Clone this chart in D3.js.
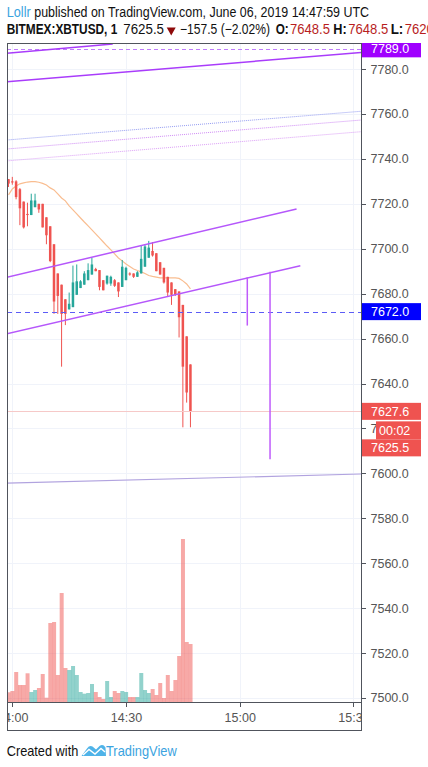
<!DOCTYPE html>
<html>
<head>
<meta charset="utf-8">
<script src="https://cdnjs.cloudflare.com/ajax/libs/d3/7.8.5/d3.min.js"></script>
<style>
	body { margin: 0; background: #fff; }
	svg { display: block; }
	text { font-family: "Liberation Sans", Arial, sans-serif; }
	.head { font-family: "Noto Sans", sans-serif; font-size: 14px; }
</style>
</head>
<body>
<div id="chart"></div>
<script>
// 1 minute candles, first one at 13:59
let firstCandle	= "13:59:00";

let opens	= [7731.0, 7730.0, 7730.0, 7726.5, 7721.0, 7715.5, 7715.0, 7718.5, 7720.0, 7720.0,
			   7714.0, 7710.0, 7702.0, 7689.0, 7684.0, 7677.5, 7673.0, 7674.0, 7679.5, 7682.5,
			   7684.0, 7686.0, 7688.5, 7691.0, 7690.5, 7686.0, 7684.5, 7684.5, 7686.0, 7685.0,
			   7683.0, 7686.0, 7689.0, 7689.0, 7687.5, 7689.0, 7692.0, 7696.0, 7699.0, 7698.0,
			   7694.0, 7691.5, 7687.5, 7685.0, 7682.0, 7681.0, 7675.0, 7661.0, 7648.5];
let highs	= [7731.0, 7732.0, 7730.5, 7727.0, 7721.0, 7720.5, 7724.5, 7724.5, 7720.0, 7720.0,
			   7714.0, 7710.0, 7702.0, 7689.0, 7684.0, 7677.5, 7680.5, 7692.5, 7693.0, 7686.0,
			   7690.0, 7693.5, 7696.0, 7691.5, 7690.5, 7686.0, 7688.0, 7688.0, 7686.5, 7685.0,
			   7695.0, 7692.0, 7689.5, 7689.0, 7690.0, 7701.5, 7702.0, 7703.5, 7703.0, 7698.0,
			   7694.0, 7691.5, 7687.5, 7685.0, 7682.0, 7681.0, 7675.0, 7661.0, 7648.5];
let lows	= [7727.5, 7728.5, 7722.0, 7710.5, 7709.0, 7710.0, 7715.0, 7718.5, 7716.0, 7709.5,
			   7702.0, 7694.0, 7671.0, 7671.0, 7647.5, 7666.0, 7673.0, 7674.0, 7679.5, 7682.5,
			   7684.0, 7686.0, 7688.5, 7690.0, 7681.5, 7681.5, 7684.0, 7683.5, 7683.0, 7678.5,
			   7683.0, 7686.0, 7688.0, 7687.0, 7687.5, 7689.0, 7692.0, 7696.0, 7696.5, 7690.0,
			   7688.5, 7684.5, 7678.5, 7675.0, 7679.0, 7660.5, 7620.5, 7631.5, 7620.5];
let closes	= [7729.0, 7729.5, 7723.0, 7718.0, 7709.5, 7715.0, 7721.5, 7721.5, 7717.5, 7709.5,
			   7706.0, 7694.5, 7676.5, 7679.0, 7671.0, 7671.0, 7675.5, 7685.0, 7685.5, 7685.5,
			   7689.0, 7690.5, 7693.0, 7690.0, 7683.0, 7681.5, 7688.0, 7687.5, 7683.5, 7681.0,
			   7692.0, 7691.5, 7688.5, 7687.5, 7689.5, 7695.5, 7701.0, 7700.5, 7697.0, 7690.0,
			   7688.5, 7685.0, 7680.5, 7679.5, 7679.5, 7669.5, 7647.5, 7636.0, 7627.5];
let volumes	= [97, 110, 300, 170, 170, 287, 100, 120, 140, 280,
			   43, 790, 800, 270, 1090, 340, 320, 360, 270, 100,
			   83, 90, 180, 100, 50, 30, 210, 50, 110, 90,
			   110, 100, 50, 50, 50, 290, 120, 90, 130, 70,
			   190, 40, 270, 110, 220, 460, 1630, 600, 580];
let maValues	= [7724.0, 7726.6, 7727.9, 7728.9, 7729.3, 7729.7, 7729.9, 7729.9, 7729.6, 7729.1,
			   7728.4, 7727.1, 7726.2, 7724.4, 7722.6, 7721.3, 7719.1, 7717.3, 7715.5, 7713.7,
			   7711.9, 7710.2, 7708.4, 7706.6, 7704.8, 7703.0, 7701.2, 7699.5, 7697.7, 7695.9,
			   7694.6, 7693.2, 7692.1, 7691.0, 7690.3, 7689.7, 7689.0, 7688.1, 7687.7, 7687.4,
			   7687.0, 7687.0, 7687.0, 7687.0, 7687.0, 7686.8, 7685.7, 7684.3, 7682.1];

// drawings: [time, time] and [price, price]
let drawTimes	= [["13:58:30", "14:26:30"], ["13:58:30", "15:32:00"], ["13:58:30", "15:32:00"],
				   ["13:58:30", "15:32:00"], ["13:58:30", "15:32:00"], ["13:58:30", "15:15:00"],
				   ["13:58:30", "15:16:00"], ["15:02:00", "15:02:00"], ["15:08:00", "15:08:00"],
				   ["13:58:30", "15:32:00"]];
let drawPrices	= [[7787.0, 7791.2], [7774.3, 7787.4], [7748.4, 7761.2],
				   [7744.4, 7757.3], [7739.1, 7752.1], [7687.3, 7717.7],
				   [7662.1, 7692.4], [7687.3, 7665.8], [7689.8, 7606.3],
				   [7595.6, 7599.7]];
let levelPrices	= [7789.0, 7672.0, 7627.6];
let lastPrice	= 7625.5;
let timerText	= "00:02";

let header1	= ["Lollr", "published on TradingView.com, June 06, 2019 14:47:59 UTC"];
let header2	= ["BITMEX:XBTUSD, 1", "7625.5", "\u2212157.5 (\u22122.02%)", "O:", "7648.5", "H:", "7648.5", "L:", "7620.5"];

// ---- styles / layout ----
let drawStyles	= [
	{ stroke: "#a93cfb", width: 1.5, dash: null },
	{ stroke: "#a93cfb", width: 1.5, dash: null },
	{ stroke: "#949cf2", width: 1, dash: "1 1" },
	{ stroke: "#d08cf6", width: 1, dash: "1 1" },
	{ stroke: "#dc9ff7", width: 1, dash: "1 1" },
	{ stroke: "#b557fb", width: 1.5, dash: null },
	{ stroke: "#b557fb", width: 1.5, dash: null },
	{ stroke: "#bf5bfb", width: 1.5, dash: null },
	{ stroke: "#bf5bfb", width: 1.5, dash: null },
	{ stroke: "#b1a3df", width: 1.2, dash: null }
];
let levelStyles	= [
	{ stroke: "#bf7dfc", dash: "4 3", box: "#a000ff" },
	{ stroke: "#5c5cf6", dash: "5 4", box: "#0000ff" },
	{ stroke: "#f6c9c8", dash: null, box: "#ef5350" }
];
let header1Pos	= [[6.7, 24, "#3ba3e0", 400], [34.3, 334.7, "#111", 400]];
let header2Pos	= [[6.7, 110.6, "#111", 700], [123.3, 40.7, "#111", 400], [180, 90, "#111", 400],
				   [275.7, 13, "#111", 700], [290, 40, "#b81e1e", 400], [333.3, 13.4, "#111", 700],
				   [348.3, 40, "#b81e1e", 400], [390.7, 12.6, "#111", 700], [404.7, 40, "#b81e1e", 400]];

let canvasWidth		= 428;
let canvasHeight	= 767;
let plot			= { left: 7, top: 43, right: 361, bottom: 702 };
let timeAxisBottom	= 730;
let frameColor		= "#50545c";
let gridColor		= "#f0f3fa";
let upColor			= "#26a69a";
let downColor		= "#ef5350";

let parseTime	= d3.timeParse("%H:%M:%S");
let candleTimes	= opens.map((o, i) => d3.timeMinute.offset(parseTime(firstCandle), i));

let svg = d3.select("#chart").append("svg")
	.attr("width", canvasWidth)
	.attr("height", canvasHeight);

let defs = svg.append("defs");
defs.append("clipPath").attr("id", "plotClip").append("rect")
	.attr("x", plot.left).attr("y", plot.top)
	.attr("width", plot.right - plot.left).attr("height", plot.bottom - plot.top);
defs.append("clipPath").attr("id", "timeClip").append("rect")
	.attr("x", plot.left).attr("y", plot.bottom)
	.attr("width", plot.right - plot.left).attr("height", timeAxisBottom - plot.bottom);
defs.append("clipPath").attr("id", "priceClip").append("rect")
	.attr("x", plot.right).attr("y", plot.top)
	.attr("width", canvasWidth - plot.right).attr("height", timeAxisBottom - plot.top);

let x = d3.scaleTime()
	.domain([parseTime("13:58:36"), parseTime("15:32:00")])
	.range([plot.left, plot.right]);
let y = d3.scaleLinear()
	.domain([7498.2, 7791.6])
	.range([plot.bottom, plot.top]);
let yVol = d3.scaleLinear()
	.domain([0, d3.max(volumes)])
	.range([plot.bottom, 539]);

let barStep		= x(candleTimes[1]) - x(candleTimes[0]);
let bodyWidth	= barStep * 0.66;
let priceTicks	= y.ticks(15);
let timeTicks	= x.ticks(d3.timeMinute.every(30));

// ---- grid ----
let grid = svg.append("g").attr("clip-path", "url(#plotClip)");
grid.selectAll("line.h").data(priceTicks).join("line")
	.attr("class", "h")
	.attr("x1", plot.left).attr("x2", plot.right)
	.attr("y1", (d) => Math.round(y(d)) + 0.5).attr("y2", (d) => Math.round(y(d)) + 0.5)
	.attr("stroke", gridColor);
grid.selectAll("line.v").data(timeTicks).join("line")
	.attr("class", "v")
	.attr("x1", (d) => Math.round(x(d)) + 0.5).attr("x2", (d) => Math.round(x(d)) + 0.5)
	.attr("y1", plot.top).attr("y2", plot.bottom)
	.attr("stroke", gridColor);

let chart = svg.append("g").attr("clip-path", "url(#plotClip)");

// ---- volume ----
chart.selectAll("rect.vol").data(volumes).join("rect")
	.attr("class", "vol")
	.attr("x", (d, i) => x(candleTimes[i]) - barStep / 2)
	.attr("width", barStep + 0.2)
	.attr("y", (d) => yVol(d))
	.attr("height", (d) => plot.bottom - yVol(d))
	.attr("fill", (d, i) => closes[i] >= opens[i] ? upColor : downColor)
	.attr("fill-opacity", 0.5);

// ---- moving average ----
chart.append("path")
	.datum(maValues)
	.attr("d", d3.line().x((d, i) => x(candleTimes[i])).y((d) => y(d)))
	.attr("fill", "none")
	.attr("stroke", "#f9bd90")
	.attr("stroke-width", 1.2);

// ---- candles ----
let candles = chart.selectAll("g.candle").data(opens).join("g").attr("class", "candle");
candles.append("line")
	.attr("x1", (d, i) => x(candleTimes[i])).attr("x2", (d, i) => x(candleTimes[i]))
	.attr("y1", (d, i) => y(highs[i])).attr("y2", (d, i) => y(lows[i]))
	.attr("stroke", (d, i) => closes[i] >= opens[i] ? upColor : downColor)
	.attr("stroke-width", 1);
candles.append("rect")
	.attr("x", (d, i) => x(candleTimes[i]) - bodyWidth / 2)
	.attr("width", bodyWidth)
	.attr("y", (d, i) => y(Math.max(opens[i], closes[i])))
	.attr("height", (d, i) => Math.max(1, Math.abs(y(opens[i]) - y(closes[i]))))
	.attr("fill", (d, i) => closes[i] >= opens[i] ? upColor : downColor);

// ---- horizontal levels ----
chart.selectAll("line.level").data(levelPrices).join("line")
	.attr("class", "level")
	.attr("x1", plot.left).attr("x2", plot.right)
	.attr("y1", (d) => Math.round(y(d)) + 0.5).attr("y2", (d) => Math.round(y(d)) + 0.5)
	.attr("stroke", (d, i) => levelStyles[i].stroke)
	.attr("stroke-dasharray", (d, i) => levelStyles[i].dash);

// ---- drawings ----
chart.selectAll("line.draw").data(drawPrices).join("line")
	.attr("class", "draw")
	.attr("x1", (d, i) => x(parseTime(drawTimes[i][0])))
	.attr("x2", (d, i) => x(parseTime(drawTimes[i][1])))
	.attr("y1", (d) => y(d[0]))
	.attr("y2", (d) => y(d[1]))
	.attr("stroke", (d, i) => drawStyles[i].stroke)
	.attr("stroke-width", (d, i) => drawStyles[i].width)
	.attr("stroke-dasharray", (d, i) => drawStyles[i].dash);

// ---- frame ----
let frame = svg.append("g").attr("stroke", frameColor).attr("stroke-width", 1);
frame.append("line").attr("x1", plot.left + 0.5).attr("x2", plot.left + 0.5).attr("y1", plot.top).attr("y2", timeAxisBottom + 0.5);
frame.append("line").attr("x1", plot.left).attr("x2", plot.right).attr("y1", plot.top + 0.5).attr("y2", plot.top + 0.5);
frame.append("line").attr("x1", plot.right + 0.5).attr("x2", plot.right + 0.5).attr("y1", plot.top).attr("y2", timeAxisBottom + 0.5);
frame.append("line").attr("x1", plot.left).attr("x2", plot.right + 1).attr("y1", plot.bottom + 0.5).attr("y2", plot.bottom + 0.5);
frame.append("line").attr("x1", plot.left).attr("x2", plot.right + 1).attr("y1", timeAxisBottom + 0.5).attr("y2", timeAxisBottom + 0.5);

// ---- time axis ----
let timeAxis = svg.append("g").attr("clip-path", "url(#timeClip)");
timeAxis.selectAll("line").data(timeTicks).join("line")
	.attr("x1", (d) => Math.round(x(d)) + 0.5).attr("x2", (d) => Math.round(x(d)) + 0.5)
	.attr("y1", plot.bottom).attr("y2", plot.bottom + 5)
	.attr("stroke", frameColor);
timeAxis.selectAll("text").data(timeTicks).join("text")
	.attr("x", (d) => x(d) + 0.5)
	.attr("y", 722)
	.attr("text-anchor", "middle")
	.attr("font-size", "12.5px")
	.attr("fill", "#555")
	.text(d3.timeFormat("%H:%M"));

// ---- price axis ----
let priceAxis = svg.append("g").attr("clip-path", "url(#priceClip)");
priceAxis.selectAll("line.tick").data(priceTicks).join("line")
	.attr("class", "tick")
	.attr("x1", plot.right).attr("x2", plot.right + 5)
	.attr("y1", (d) => Math.round(y(d)) + 0.5).attr("y2", (d) => Math.round(y(d)) + 0.5)
	.attr("stroke", frameColor);
priceAxis.selectAll("text.tick").data(priceTicks).join("text")
	.attr("class", "tick")
	.attr("x", 370.5)
	.attr("y", (d) => y(d))
	.attr("dy", "0.36em")
	.attr("font-size", "12.5px")
	.attr("fill", "#555")
	.text(d3.format(".1f"));

// level labels
let labelH = 17;
let levelLabels = priceAxis.selectAll("g.lab").data(levelPrices).join("g").attr("class", "lab");
levelLabels.append("rect")
	.attr("x", plot.right + 1).attr("width", 59)
	.attr("y", (d) => y(d) - labelH / 2).attr("height", labelH)
	.attr("fill", (d, i) => levelStyles[i].box);
levelLabels.append("text")
	.attr("x", 371).attr("y", (d) => y(d)).attr("dy", "0.36em")
	.attr("font-size", "12.5px").attr("fill", "#fff")
	.text(d3.format(".1f"));

// countdown + last price stacked under the 7627.6 label
let stackTop = y(levelPrices[2]) + labelH / 2 + 1.5;
priceAxis.append("rect")
	.attr("x", 376).attr("width", 45)
	.attr("y", stackTop).attr("height", 18)
	.attr("fill", downColor);
priceAxis.append("text")
	.attr("x", 379).attr("y", stackTop + 9).attr("dy", "0.36em")
	.attr("font-size", "12.5px").attr("fill", "#fff")
	.text(timerText);
priceAxis.append("rect")
	.attr("x", plot.right + 1).attr("width", 59)
	.attr("y", stackTop + 18).attr("height", labelH)
	.attr("fill", downColor);
priceAxis.append("text")
	.attr("x", 371).attr("y", stackTop + 18 + labelH / 2).attr("dy", "0.36em")
	.attr("font-size", "12.5px").attr("fill", "#fff")
	.text(d3.format(".1f")(lastPrice));

// ---- header ----
let head = svg.append("g").attr("class", "head");
head.selectAll("text.h1").data(header1).join("text")
	.attr("class", "h1")
	.attr("x", (d, i) => header1Pos[i][0]).attr("y", 17)
	.attr("textLength", (d, i) => header1Pos[i][1]).attr("lengthAdjust", "spacingAndGlyphs")
	.attr("fill", (d, i) => header1Pos[i][2])
	.attr("font-weight", (d, i) => header1Pos[i][3])
	.text((d) => d);
head.selectAll("text.h2").data(header2).join("text")
	.attr("class", "h2")
	.attr("x", (d, i) => header2Pos[i][0]).attr("y", 33.5)
	.attr("textLength", (d, i) => header2Pos[i][1]).attr("lengthAdjust", "spacingAndGlyphs")
	.attr("fill", (d, i) => header2Pos[i][2])
	.attr("font-weight", (d, i) => header2Pos[i][3])
	.text((d) => d);
head.append("path")
	.attr("d", "M166.7,27.5 L175.7,27.5 L171.2,35.5 Z")
	.attr("fill", "#8e0a0a");

// ---- footer ----
let foot = svg.append("g").attr("class", "head");
foot.append("text")
	.attr("x", 6.7).attr("y", 755.5)
	.attr("font-size", "14.5px")
	.attr("textLength", 71.6).attr("lengthAdjust", "spacingAndGlyphs")
	.attr("fill", "#111")
	.text("Created with");
foot.append("path")
	.attr("d", "M81.5,756 L87,748.5 Q89.5,745 92.5,746.5 L96,749.5 L99.5,746 Q103,743.5 105.5,747.5 L106,756 Z")
	.attr("fill", "#4fb3e8");
foot.append("path")
	.attr("d", "M83,755 L89,749.5 L95,754 L101,748.5 L105,752")
	.attr("fill", "none")
	.attr("stroke", "#fff")
	.attr("stroke-width", 1.4);
foot.append("text")
	.attr("x", 106).attr("y", 755.5)
	.attr("font-size", "14.5px")
	.attr("textLength", 70.7).attr("lengthAdjust", "spacingAndGlyphs")
	.attr("fill", "#3ba3e0")
	.text("TradingView");
</script>
</body>
</html>
